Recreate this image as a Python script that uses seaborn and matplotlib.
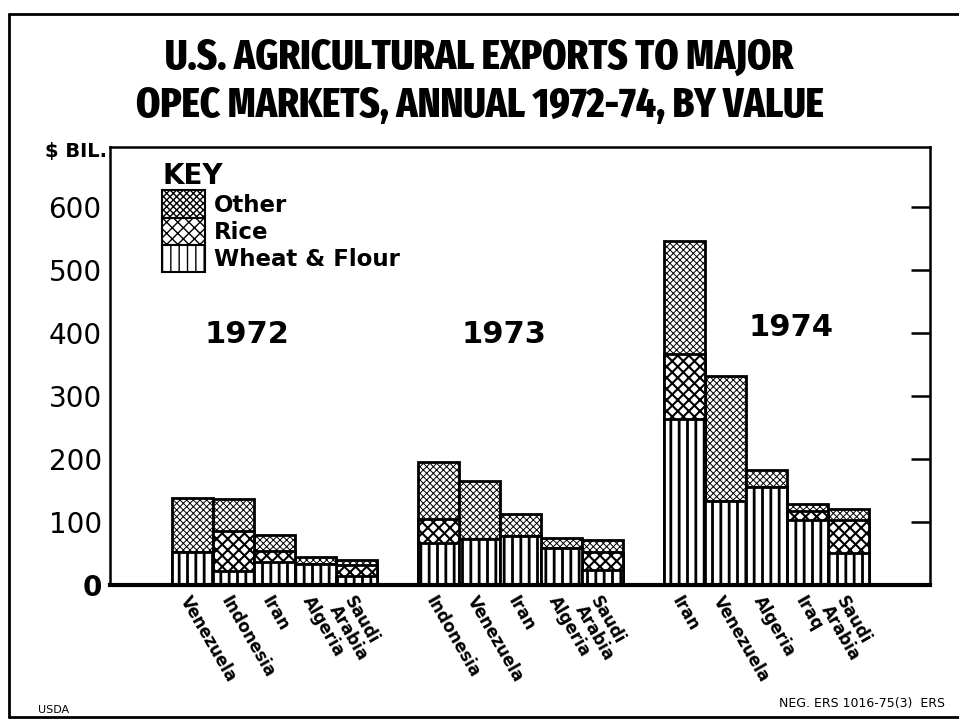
import matplotlib
matplotlib.use("Agg")
import numpy as np
import pandas as pd
import seaborn as sns
import matplotlib.pyplot as plt
from matplotlib import font_manager
from matplotlib.patches import Patch
from matplotlib.lines import Line2D

# Valeurs ($ mil., lecture approximative)
years = ["1972", "1973", "1974"]
countries_1972 = ["Venezuela", "Indonesia", "Iran", "Algeria", "Saudi\nArabia"]
countries_1973 = ["Indonesia", "Venezuela", "Iran", "Algeria", "Saudi\nArabia"]
countries_1974 = ["Iran", "Venezuela", "Algeria", "Iraq", "Saudi\nArabia"]
wheat_1972 = [52, 22, 37, 34, 14]
rice_1972 = [0, 63, 17, 0, 18]
other_1972 = [86, 51, 26, 11, 8]
wheat_1973 = [67, 73, 77, 59, 24]
rice_1973 = [38, 0, 0, 0, 29]
other_1973 = [90, 92, 36, 16, 19]
wheat_1974 = [263, 133, 156, 103, 51]
rice_1974 = [103, 0, 0, 14, 52]
other_1974 = [180, 199, 27, 12, 17]
yticks = [0, 100, 200, 300, 400, 500, 600]
key_labels = ["Other", "Rice", "Wheat & Flour"]

sns.set_style("white")
plt.rcParams["font.family"] = ["DejaVu Sans"]
plt.rcParams["text.color"] = "black"
plt.rcParams["xtick.color"] = "black"
plt.rcParams["ytick.color"] = "black"

# police étroite et grasse pour le titre, la plus serrée disponible
def score(fname):
    n = fname.lower()
    if "italic" in n or "oblique" in n:
        return -1
    s = 0
    if "extracondensed" in n or "extra condensed" in n:
        s += 10
    elif "semicondensed" in n:
        s += 3
    elif "condensed" in n or "narrow" in n:
        s += 6
    else:
        return -1
    if "extrabold" in n:
        s += 3
    elif "black" in n:
        s += 2
    elif "bold" in n and "semibold" not in n:
        s += 2.5
    else:
        s -= 5
    return s

best = None
for f in font_manager.fontManager.ttflist:
    sc = score(f.fname)
    if sc > 0 and (best is None or sc > best[0]):
        best = (sc, f.fname)
if best:
    title_prop = font_manager.FontProperties(fname=best[1])
else:
    title_prop = font_manager.FontProperties(family="DejaVu Sans", weight="bold")

# Tableau : une ligne par barre, un créneau vide entre les années
rows = []
groups = [(countries_1972, wheat_1972, rice_1972, other_1972),
          (countries_1973, wheat_1973, rice_1973, other_1973),
          (countries_1974, wheat_1974, rice_1974, other_1974)]
for g, (names, w, r, o) in enumerate(groups):
    for i in range(len(names)):
        rows.append({"pos": g * 6 + i, "country": names[i],
                     "wheat": w[i], "rice": r[i], "other": o[i]})
df = pd.DataFrame(rows)
df["wheat_rice"] = df["wheat"] + df["rice"]
df["total"] = df["wheat_rice"] + df["other"]

fig = plt.figure(figsize=(9.59, 7.21), dpi=100)
ax = fig.add_axes([110 / 959, (721 - 585) / 721, 820 / 959, 438 / 721])

hatches = {"total": "xxxxx", "wheat_rice": "xxx", "wheat": "||"}
hatch_lw = {"total": 0.7, "wheat_rice": 1.5, "wheat": 2.0}
# barres superposées : total, puis blé+riz, puis blé
for col in ["total", "wheat_rice", "wheat"]:
    with plt.rc_context({"hatch.linewidth": hatch_lw[col]}):
        sns.barplot(data=df, x="pos", y=col, native_scale=True, width=1,
                    color="white", saturation=1, errorbar=None,
                    edgecolor="black", linewidth=2, hatch=hatches[col], ax=ax)

ax.set_xlim(-2, 18)
ax.set_ylim(0, 695)
ax.set_xlabel("")
ax.set_ylabel("")

ax.set_xticks(df["pos"])
ax.set_xticklabels(df["country"], rotation=-60, ha="left", va="top",
                   rotation_mode="anchor", fontsize=12, fontweight="bold",
                   linespacing=0.95)
ax.tick_params(axis="x", length=0, pad=6)

ax.set_yticks(yticks)
ax.set_yticklabels([str(v) for v in yticks], fontsize=20)
ax.get_yticklabels()[0].set_fontweight("bold")
ax.tick_params(axis="y", direction="in", length=14, width=1.8,
               right=True, labelright=False, pad=6)

for side in ["left", "right", "top"]:
    ax.spines[side].set_linewidth(1.8)
    ax.spines[side].set_color("black")
ax.spines["bottom"].set_linewidth(3)
ax.spines["bottom"].set_color("black")

# étiquettes des années
ax.text(1.35, 397, years[0], ha="center", va="center", fontsize=22, fontweight="bold")
ax.text(7.6, 397, years[1], ha="center", va="center", fontsize=22, fontweight="bold")
ax.text(14.6, 408, years[2], ha="center", va="center", fontsize=22, fontweight="bold")

# légende "KEY"
legend_hatches = ["xxxxx", "xxx", "||"]
handles = []
for h, col in zip(legend_hatches, ["total", "wheat_rice", "wheat"]):
    with plt.rc_context({"hatch.linewidth": hatch_lw[col]}):
        handles.append(Patch(facecolor="white", edgecolor="black", linewidth=1.5, hatch=h))
leg = ax.legend(handles, key_labels, title="KEY", loc="upper left",
                bbox_to_anchor=(0.064, 0.965), frameon=False, borderpad=0,
                borderaxespad=0, handlelength=1.85, handleheight=1.45,
                labelspacing=0, handletextpad=0.4, alignment="left",
                prop={"size": 16.5, "weight": "bold"},
                title_fontproperties={"size": 20, "weight": "bold"})

# titre et textes annexes
t1 = fig.text(0.5, 1 - 58 / 721, "U.S. AGRICULTURAL EXPORTS TO MAJOR", ha="center",
              va="center", fontproperties=title_prop, fontsize=33)
t2 = fig.text(0.5, 1 - 106 / 721, "OPEC MARKETS, ANNUAL 1972-74, BY VALUE", ha="center",
              va="center", fontproperties=title_prop, fontsize=33)
# ajuste la taille du titre à la largeur du modèle (~690 px pour la 2e ligne)
renderer = fig.canvas.get_renderer()
w2 = t2.get_window_extent(renderer).width
size = min(34, 33 * 690 / w2)
t1.set_fontsize(size)
t2.set_fontsize(size)

fig.text(45 / 959, 1 - 152 / 721, "$ BIL.", ha="left", va="center",
         fontsize=14, fontweight="bold")
fig.text(38 / 959, 1 - 710 / 721, "USDA", ha="left", va="center", fontsize=8)
fig.text(945 / 959, 1 - 704 / 721, "NEG. ERS 1016-75(3)  ERS", ha="right",
         va="center", fontsize=9)

# cadre extérieur
for xs, ys in [([9, 9], [14, 717]), ([9, 959], [14, 14]), ([9, 959], [717, 717])]:
    fig.add_artist(Line2D([x / 959 for x in xs], [1 - y / 721 for y in ys],
                          transform=fig.transFigure, color="black", linewidth=2))

fig.savefig("out.png", dpi=100)
